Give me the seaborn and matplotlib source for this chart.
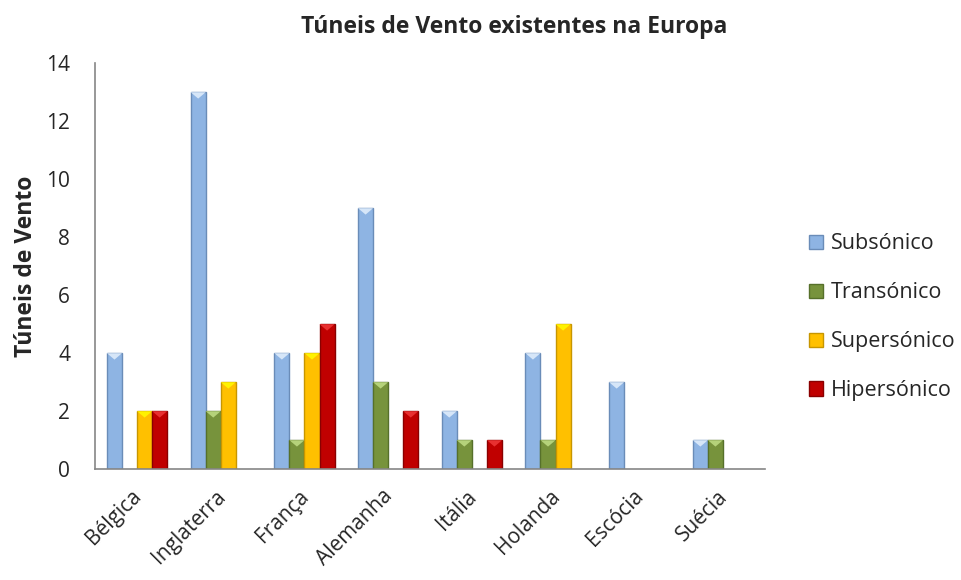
import matplotlib
matplotlib.use("Agg")
import matplotlib.pyplot as plt
import matplotlib.transforms as mtransforms
import matplotlib.colors as mcolors
import seaborn as sns
import pandas as pd
from matplotlib.patches import Patch, Polygon

paises = ["Bélgica", "Inglaterra", "França", "Alemanha", "Itália", "Holanda", "Escócia", "Suécia"]
series = ["Subsónico", "Transónico", "Supersónico", "Hipersónico"]
subsonico = [4, 13, 4, 9, 2, 4, 3, 1]
transonico = [0, 2, 1, 3, 1, 1, 0, 1]
supersonico = [2, 3, 4, 0, 0, 5, 0, 0]
hipersonico = [2, 0, 5, 2, 1, 0, 0, 0]
yticks = [0, 2, 4, 6, 8, 10, 12, 14]

colors = ["#8EB4E3", "#77933C", "#FFC000", "#C00000"]
edges = ["#6A8CB8", "#56702A", "#C79600", "#8A0000"]
tops = ["#D6E6F8", "#B5D27A", "#FFF200", "#E83030"]

rows = []
for s, vals in zip(series, [subsonico, transonico, supersonico, hipersonico]):
    for p, v in zip(paises, vals):
        rows.append({"País": p, "Série": s, "Valor": v})
df = pd.DataFrame(rows)

sns.set_theme(style="white")
plt.rcParams['font.family'] = ['Open Sans', 'DejaVu Sans']

fig = plt.figure(figsize=(9.62, 5.8), dpi=100)
ax = fig.add_axes([0.099, 0.191, 0.696, 0.70])

sns.barplot(data=df, x="País", y="Valor", hue="Série", order=paises, hue_order=series,
            palette=colors, width=0.72, ax=ax, legend=False, saturation=1)

ax.set_ylim(0, 14)
# bevel-like top facet derived from each bar's own geometry
bevel = 0.22
for i, cont in enumerate(ax.containers):
    for bar in cont:
        bar.set_edgecolor(edges[i])
        bar.set_linewidth(1.0)
        h = bar.get_height()
        if h <= 0:
            bar.set_visible(False)
            continue
        x0 = bar.get_x()
        w = bar.get_width()
        tri = Polygon([(x0, h), (x0 + w, h), (x0 + w / 2, h - bevel)], closed=True,
                      facecolor=tops[i], edgecolor="none", zorder=bar.get_zorder() + 0.1)
        ax.add_patch(tri)

ax.set_yticks(yticks)
ax.set_yticklabels([str(t) for t in yticks], fontsize=15)
ax.set_xlim(-0.5, len(paises) - 0.5)
ax.set_xticks(range(len(paises)))
ax.set_xticklabels(paises, rotation=45, ha="right", rotation_mode="anchor", fontsize=15)
ax.tick_params(axis="x", pad=12, length=0)
ax.tick_params(axis="y", pad=18, length=0)
offset = mtransforms.ScaledTranslation(-0.06, 0, fig.dpi_scale_trans)
for lab in ax.get_xticklabels():
    lab.set_transform(lab.get_transform() + offset)
ax.set_xlabel("")
ax.set_ylabel("Túneis de Vento", fontsize=16.5, fontweight="bold", labelpad=6)

for sp in ["top", "right"]:
    ax.spines[sp].set_visible(False)
for sp in ["left", "bottom"]:
    ax.spines[sp].set_color("#868686")
    ax.spines[sp].set_linewidth(1.2)

fig.text(0.535, 0.953, "Túneis de Vento existentes na Europa", ha="center", va="center",
         fontsize=16.5, fontweight="bold")

handles = [Patch(facecolor=c, edgecolor=e, label=s) for c, e, s in zip(colors, edges, series)]
fig.legend(handles=handles, loc="center left", bbox_to_anchor=(0.832, 0.453), frameon=False,
           fontsize=15.5, labelspacing=1.3, handlelength=0.65, handleheight=0.65, handletextpad=0.35,
           borderaxespad=0)

fig.savefig("out.png", dpi=100)
